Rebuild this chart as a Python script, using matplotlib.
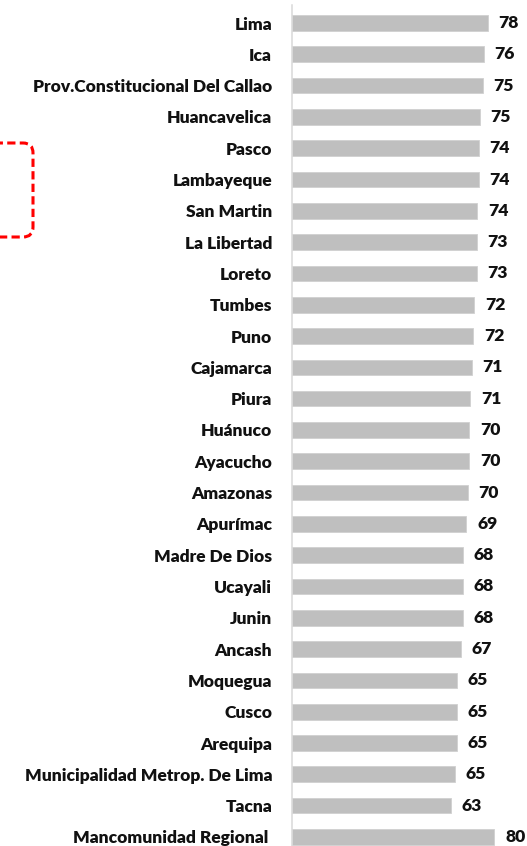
import matplotlib
matplotlib.use("Agg")
import matplotlib.pyplot as plt
from matplotlib.patches import FancyBboxPatch

# datos
regiones = ["Lima", "Ica", "Prov.Constitucional Del Callao", "Huancavelica", "Pasco",
            "Lambayeque", "San Martin", "La Libertad", "Loreto", "Tumbes", "Puno",
            "Cajamarca", "Piura", "Huánuco", "Ayacucho", "Amazonas", "Apurímac",
            "Madre De Dios", "Ucayali", "Junin", "Ancash", "Moquegua", "Cusco",
            "Arequipa", "Municipalidad Metrop. De Lima", "Tacna", "Mancomunidad Regional "]
valores = [77.9, 76.3, 75.8, 74.7, 74.2, 74.2, 73.6, 73.4, 73.3, 72.4, 72.0,
           71.4, 70.9, 70.4, 70.4, 69.9, 69.3, 68.1, 68.1, 68.0, 67.1, 65.4, 65.4,
           65.4, 64.9, 63.2, 80.4]
etiquetas = ["78", "76", "75", "75", "74", "74", "74", "73", "73", "72", "72",
             "71", "71", "70", "70", "70", "69", "68", "68", "68", "67", "65", "65",
             "65", "65", "63", "80"]

plt.rcParams['font.family'] = ['Lato', 'DejaVu Sans']

fig = plt.figure(figsize=(5.27, 8.46), dpi=100)
ax = fig.add_axes([291.5 / 527, 0, 1 - 291.5 / 527, (846 - 5) / 846])

pos = list(range(len(regiones)))
ax.barh(pos, valores, height=0.5, color="#BFBFBF", edgecolor="#D0D0D0", linewidth=0.6)

# etiquetas de valor a la derecha de cada barra
for p, v, t in zip(pos, valores, etiquetas):
    ax.text(v + 4.2, p, t, va="center", ha="left", fontsize=12.6, fontweight="heavy", color="#111111")

ax.set_yticks(pos)
ax.set_yticklabels(regiones, fontsize=12.5, fontweight="heavy", color="#111111")
ax.tick_params(axis="y", length=0, pad=14)
ax.set_xticks([])
ax.set_xlim(0, 93.3)
ax.set_ylim(26.29, -0.575)

for s in ["top", "right", "bottom"]:
    ax.spines[s].set_visible(False)
ax.spines["left"].set_color("#D9D9D9")
ax.spines["left"].set_linewidth(1.1)

# recuadro rojo punteado (parcialmente fuera de la imagen)
caja = FancyBboxPatch((-1.0, 6.09), 1.33, 0.94, boxstyle="round,pad=0,rounding_size=0.1",
                      transform=fig.dpi_scale_trans, fill=False, edgecolor="#FF0000",
                      linewidth=2.2, linestyle=(0, (2.7, 1.4)), clip_on=False)
fig.patches.append(caja)

fig.savefig("out.png", dpi=100)
